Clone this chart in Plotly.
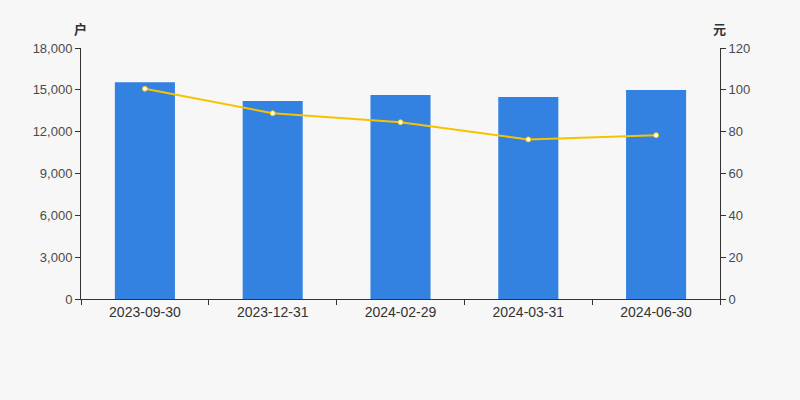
import plotly.graph_objects as go

categories = ["2023-09-30", "2023-12-31", "2024-02-29", "2024-03-31", "2024-06-30"]
holders = [15540, 14200, 14630, 14490, 14990]
price = [100.5, 88.8, 84.5, 76.3, 78.3]
left_ticks = [0, 3000, 6000, 9000, 12000, 15000, 18000]
right_ticks = [0, 20, 40, 60, 80, 100, 120]

fig = go.Figure()
fig.add_trace(go.Bar(x=categories, y=holders, marker=dict(color="#3381e1", line=dict(width=0)),
                     width=0.47, yaxis="y", hoverinfo="skip"))
fig.add_trace(go.Scatter(x=categories, y=price, mode="lines+markers", yaxis="y2",
                         line=dict(color="#f5c400", width=2),
                         marker=dict(size=5, color="#ffffff", line=dict(color="#f5c400", width=1)),
                         hoverinfo="skip"))

font = dict(family="Liberation Sans, Arial, sans-serif", size=13, color="#333333")
fig.update_layout(
    width=800, height=400,
    paper_bgcolor="#f7f7f7", plot_bgcolor="#f7f7f7",
    margin=dict(l=81, r=80, t=48, b=101),
    showlegend=False, bargap=0.53,
    font=font,
    xaxis=dict(type="category", showgrid=False, showline=True, linecolor="#333333", linewidth=1,
               ticks="outside", tickson="boundaries", ticklen=5, tickcolor="#333333",
               tickfont=dict(size=14, color="#333333"), zeroline=False),
    yaxis=dict(range=[0, 18000], tickvals=left_ticks, tickformat=",d", showgrid=False,
               showline=True, linecolor="#333333", ticks="outside", ticklen=5, tickcolor="#333333",
               zeroline=False, tickfont=dict(size=13, color="#4a4a4a")),
    yaxis2=dict(range=[0, 120], tickvals=right_ticks, overlaying="y", side="right", showgrid=False,
                showline=True, linecolor="#333333", ticks="outside", ticklen=5, tickcolor="#333333",
                zeroline=False, tickfont=dict(size=13, color="#4a4a4a")),
    annotations=[
        dict(text="<b>户</b>", xref="paper", yref="paper", x=0, y=1, xshift=8, yshift=8,
             xanchor="right", yanchor="bottom", showarrow=False,
             font=dict(size=13, color="#333333", family="Noto Sans CJK SC")),
        dict(text="<b>元</b>", xref="paper", yref="paper", x=1, y=1, xshift=8, yshift=8,
             xanchor="right", yanchor="bottom", showarrow=False,
             font=dict(size=13, color="#333333", family="Noto Sans CJK SC")),
    ],
)
fig.write_html("out.html", config={"displayModeBar": False},
               post_script="document.body.style.margin='0';")
